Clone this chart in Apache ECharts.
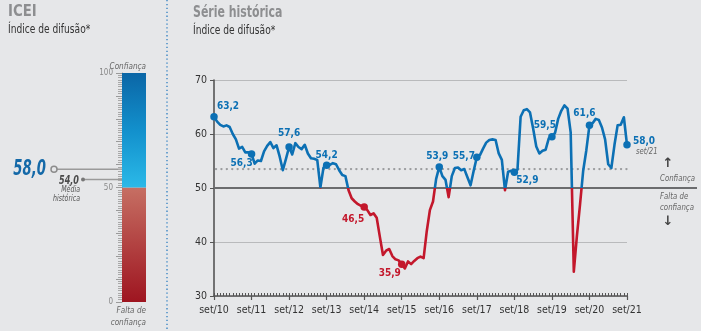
<!DOCTYPE html>
<html><head><meta charset="utf-8">
<script src="https://cdn.jsdelivr.net/npm/echarts@6.0.0/dist/echarts.min.js"></script>
<style>html,body{margin:0;padding:0;background:#e6e7e9}#c{width:701px;height:331px}</style>
</head><body><div id="c"></div>
<script>
// ---------- data ----------
const monthNames = ['jan','fev','mar','abr','mai','jun','jul','ago','set','out','nov','dez'];
const categories = [];
for (let i = 0; i < 133; i++) { const mi = (8 + i) % 12; const yr = 10 + Math.floor((8 + i) / 12); categories.push(monthNames[mi] + '/' + String(yr).padStart(2, '0')); }
const icei = [
 63.2,62.3,61.7,61.4,61.6,61.3,60.0,59.0,57.3,57.6,56.6,56.6,
 56.3,54.5,55.1,55.0,56.8,57.8,58.5,57.4,57.9,55.8,53.3,55.4,
 57.6,56.2,58.3,57.6,57.2,58.0,56.4,55.5,55.4,55.2,50.1,53.8,
 54.2,54.3,54.6,54.4,53.3,52.4,52.2,49.6,48.1,47.5,47.0,46.7,
 46.5,45.9,45.0,45.3,44.5,41.0,37.6,38.4,38.7,37.4,36.8,36.6,
 35.9,35.1,36.4,35.9,36.5,37.0,37.3,37.0,42.0,45.9,47.5,51.7,
 53.9,52.2,51.5,48.3,52.2,53.7,53.8,53.3,53.5,52.0,50.5,53.2,
 55.7,56.1,57.3,58.4,58.9,59.0,58.9,56.4,55.2,49.6,53.0,53.2,
 52.9,53.4,63.2,64.4,64.6,64.0,61.0,57.7,56.4,56.9,57.1,59.2,
 59.5,60.2,62.8,64.3,65.3,64.7,60.3,34.5,41.2,47.0,53.2,57.0,
 61.6,62.0,62.8,62.6,61.2,59.0,54.4,53.7,58.0,61.6,61.7,63.1,
 58.0
];
const yTicks = [30, 40, 50, 60, 70];
const highlightIdx = [0,12,24,36,48,60,72,84,96,108,120,132];
const historicalAverage = 53.5;       // position of dotted line
const historicalAverageLabel = '54,0';
const currentValue = 58.0;
const gaugeLower = [50];   // "Falta de confiança" part of 0-100 scale
const gaugeUpper = [50];   // "Confiança" part
const gaugeLabels = [0, 50, 100];

// ---------- styles ----------
const F = '"Liberation Sans Narrow","DejaVu Sans Condensed",sans-serif';
const BLUE = '#0c70b4', RED = '#c3182c';
const labelOffsets = {0:[14,-10],12:[-10,9],24:[0,-14],36:[0,-10],48:[-11,13],60:[-12,9],72:[-2,-10.5],84:[-13,-1],96:[13,8],108:[-7,-11.5],120:[-5,-11.5],132:[17,-3]};
const fmt = v => v.toFixed(1).replace('.', ',');

const chart = echarts.init(document.getElementById('c'), null, {renderer: 'canvas'});
const option = {
  backgroundColor: '#e6e7e9',
  animation: false,
  grid: [
    {left: 214, right: 74, top: 80, bottom: 35},
    {left: 122, width: 24, top: 73, bottom: 29}
  ],
  xAxis: [
    {type: 'category', gridIndex: 0, data: categories, boundaryGap: false,
     axisLine: {lineStyle: {color: '#555', width: 1.6}},
     axisTick: {interval: 0, length: 3, inside: true, lineStyle: {color: '#555', width: 1}},
     axisLabel: {interval: 11, color: '#333', fontFamily: F, fontSize: 10.5, margin: 9},
     splitLine: {show: false}},
    {type: 'category', gridIndex: 0, data: categories, boundaryGap: false, position: 'bottom',
     axisLine: {show: false},
     axisTick: {interval: 11, length: 4, lineStyle: {color: '#555', width: 1.2}},
     axisLabel: {show: false}, splitLine: {show: false}},
    {type: 'category', gridIndex: 1, data: ['ICEI'], show: false}
  ],
  yAxis: [
    {type: 'value', gridIndex: 0, min: yTicks[0], max: yTicks[yTicks.length - 1], interval: 10,
     axisLine: {show: true, lineStyle: {color: '#555', width: 1.6}},
     axisTick: {show: true, length: 4, lineStyle: {color: '#555'}},
     axisLabel: {color: '#333', fontFamily: F, fontSize: 10.5, margin: 7},
     splitLine: {show: true, lineStyle: {color: '#b9babc', width: 1.2}}},
    {type: 'value', gridIndex: 1, min: 0, max: 100, interval: 10,
     axisLine: {show: true, lineStyle: {color: '#9a9a9a', width: 1}},
     axisTick: {show: true, length: 6, lineStyle: {color: '#9a9a9a'}},
     minorTick: {show: true, splitNumber: 10, length: 4, lineStyle: {color: '#a8a8a8'}},
     axisLabel: {formatter: v => gaugeLabels.includes(v) ? String(v) : '', color: '#888', fontFamily: F, fontSize: 8, margin: 9},
     splitLine: {show: false}}
  ],
  visualMap: {type: 'piecewise', show: false, dimension: 1, seriesIndex: 0,
    pieces: [{gte: 0, lt: 50, color: RED}, {gte: 50, lte: 100, color: BLUE}]},
  series: [
    {type: 'line', xAxisIndex: 0, yAxisIndex: 0, data: icei, symbol: 'none', z: 4,
     lineStyle: {width: 2.6, join: 'round'}},
    {type: 'scatter', xAxisIndex: 0, yAxisIndex: 0, z: 5, symbolSize: 7.5,
     data: highlightIdx.map(i => ({value: [i, icei[i]],
       itemStyle: {color: icei[i] < 50 ? RED : BLUE, opacity: 1},
       label: {offset: labelOffsets[i], color: icei[i] < 50 ? RED : BLUE}})),
     label: {show: true, position: 'inside', fontFamily: F, fontWeight: 'bold', fontSize: 10,
       textBorderWidth: 0, formatter: p => fmt(p.value[1])},
     emphasis: {disabled: true}},
    {type: 'bar', xAxisIndex: 2, yAxisIndex: 1, stack: 'g', barWidth: '100%', data: gaugeLower, silent: true,
     itemStyle: {color: new echarts.graphic.LinearGradient(0, 0, 0, 1, [{offset: 0, color: '#c66f63'}, {offset: 1, color: '#9e1520'}])}},
    {type: 'bar', xAxisIndex: 2, yAxisIndex: 1, stack: 'g', barWidth: '100%', data: gaugeUpper, silent: true,
     itemStyle: {color: new echarts.graphic.LinearGradient(0, 0, 0, 1, [{offset: 0, color: '#0b66a6'}, {offset: 0.5, color: '#1290cc'}, {offset: 1, color: '#2bb9e8'}])}},
    {type: 'line', xAxisIndex: 1, yAxisIndex: 0, data: [], silent: true, symbol: 'none'}
  ]
};
chart.setOption(option);

const yCur = chart.convertToPixel({yAxisIndex: 1}, currentValue);
const yAvg = chart.convertToPixel({yAxisIndex: 1}, historicalAverage);
const yAvgMain = chart.convertToPixel({yAxisIndex: 0}, historicalAverage);
const y50 = chart.convertToPixel({yAxisIndex: 0}, 50);
const xStart = chart.convertToPixel({xAxisIndex: 0}, 0);
const lastI = icei.length - 1;
const xLast = chart.convertToPixel({xAxisIndex: 0}, lastI);
const yLast = chart.convertToPixel({yAxisIndex: 0}, icei[lastI]);
const txt = (x, y, s, st, sx) => ({type: 'text', x, y, scaleX: sx || 1, silent: true, style: Object.assign({text: s, fontFamily: F, fontSize: 11, fill: '#333', verticalAlign: 'middle'}, st)});
const IT = {fontStyle: 'italic', fill: '#666'};

chart.setOption({graphic: [
  txt(8, 12, 'ICEI', {fontSize: 16, fontWeight: 'bold', fill: '#8d8e90'}, 0.92),
  txt(8, 30, 'Índice de difusão*', {fontSize: 11.5}, 0.88),
  txt(193, 13, 'Série histórica', {fontSize: 16, fontWeight: 'bold', fill: '#8d8e90'}, 0.76),
  txt(193, 31, 'Índice de difusão*', {fontSize: 11.5}, 0.88),
  {type: 'line', silent: true, shape: {x1: 167, y1: 0, x2: 167, y2: 331}, style: {stroke: '#2f7dc1', lineWidth: 1.3, lineDash: [1.3, 2.6]}},
  // gauge annotations
  txt(146, 67, 'Confiança', Object.assign({fontSize: 9, align: 'right'}, IT), 0.9),
  txt(146, 311, 'Falta de', Object.assign({fontSize: 9, align: 'right'}, IT), 0.9),
  txt(146, 323, 'confiança', Object.assign({fontSize: 9, align: 'right'}, IT), 0.9),
  {type: 'line', silent: true, shape: {x1: 57, y1: yCur, x2: 122, y2: yCur}, style: {stroke: '#9a9a9a', lineWidth: 1.6}},
  {type: 'circle', silent: true, shape: {cx: 54, cy: yCur, r: 3}, style: {stroke: '#8c8c8c', fill: '#e6e7e9', lineWidth: 1.5}},
  txt(46, yCur, fmt(currentValue), {fontSize: 21, fontWeight: 'bold', fontStyle: 'italic', fill: '#1469a8', align: 'right'}, 0.7),
  {type: 'line', silent: true, shape: {x1: 83, y1: yAvg, x2: 122, y2: yAvg}, style: {stroke: '#9a9a9a', lineWidth: 1.6}},
  {type: 'circle', silent: true, shape: {cx: 83, cy: yAvg, r: 2}, style: {fill: '#777'}},
  txt(79, yAvg + 1, historicalAverageLabel, {fontSize: 12.5, fontWeight: 'bold', fontStyle: 'italic', fill: '#4a4a4a', align: 'right'}, 0.72),
  txt(80, yAvg + 10, 'Média', {fontSize: 8.5, fontStyle: 'italic', fill: '#555', align: 'right'}, 0.82),
  txt(80, yAvg + 19, 'histórica', {fontSize: 8.5, fontStyle: 'italic', fill: '#555', align: 'right'}, 0.82),
  // main chart extras
  {type: 'line', silent: true, z: 2, shape: {x1: xStart + 2, y1: yAvgMain, x2: xLast, y2: yAvgMain}, style: {stroke: '#9a9b9d', lineWidth: 2.3, lineCap: 'round', lineDash: [0.1, 5.3]}},
  {type: 'line', silent: true, z: 3, shape: {x1: xStart, y1: y50, x2: 697, y2: y50}, style: {stroke: '#6b6c6e', lineWidth: 1.8}},
  txt(xLast + 9, yLast + 7, 'set/21', {fontSize: 8.5, fontStyle: 'italic', fill: '#666'}, 0.9),
  txt(668, y50 - 24, '↑', {fontSize: 13, fontWeight: 'bold', fill: '#444', align: 'center', fontFamily: 'DejaVu Sans'}),
  txt(660, y50 - 9, 'Confiança', Object.assign({fontSize: 9.5}, IT), 0.82),
  txt(660, y50 + 9, 'Falta de', Object.assign({fontSize: 9.5}, IT), 0.82),
  txt(660, y50 + 20, 'confiança', Object.assign({fontSize: 9.5}, IT), 0.82),
  txt(668, y50 + 34, '↓', {fontSize: 13, fontWeight: 'bold', fill: '#444', align: 'center', fontFamily: 'DejaVu Sans'})
]});
</script></body></html>
